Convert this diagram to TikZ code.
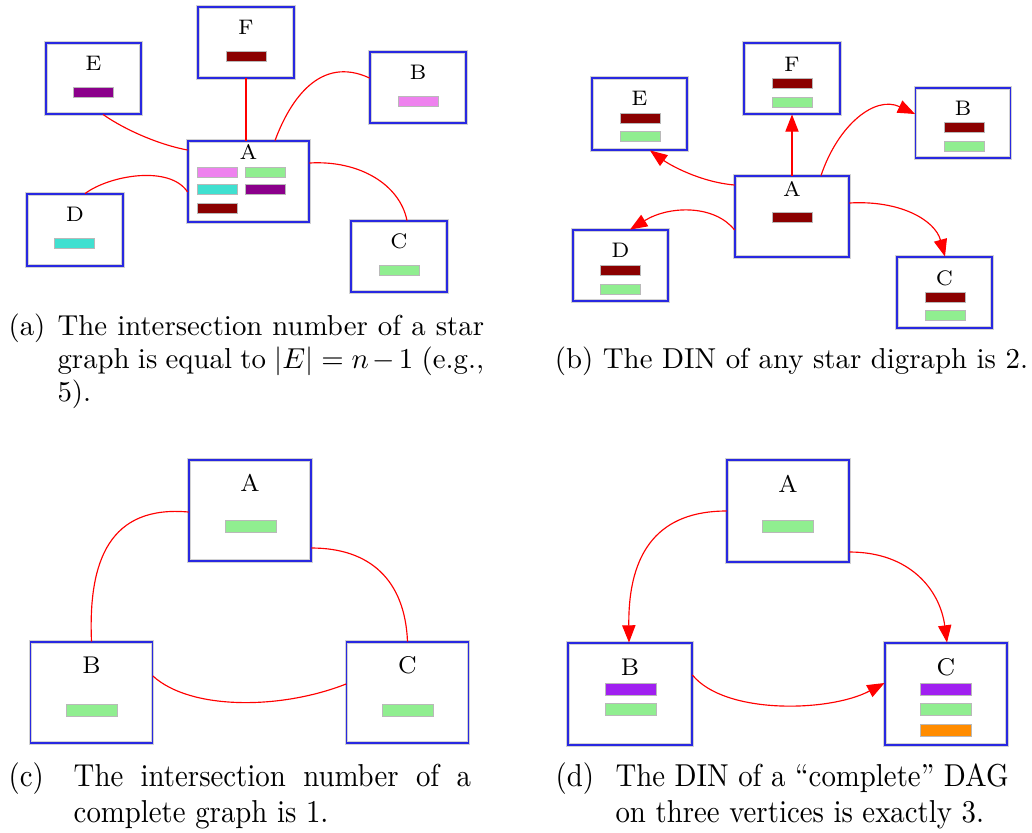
\documentclass[tikz,border=0pt]{standalone}
\usepackage{fontspec}
\usepackage{graphicx}
\usetikzlibrary{arrows.meta,calc}

\definecolor{boxblue}{RGB}{40,40,225}
\definecolor{cviolet}{HTML}{EE82EE}
\definecolor{clgreen}{HTML}{90EE90}
\definecolor{cturq}{HTML}{40E0D0}
\definecolor{cdmag}{HTML}{8B008B}
\definecolor{cdred}{HTML}{8B0000}
\definecolor{cpurple}{HTML}{A020F0}
\definecolor{corange}{HTML}{FF8C00}

\tikzset{
  sz/.style 2 args={minimum width=#1*0.347pt, minimum height=#2*0.347pt},
  vtx/.style={rectangle, draw=gray!35, line width=0.3pt, double=boxblue,
    double distance=0.6pt, fill=white, inner sep=0pt},
  lbl/.style={inner sep=0pt, font=\fontsize{7.3}{8.8}\selectfont},
  lblb/.style={inner sep=0pt, font=\fontsize{8.4}{10}\selectfont},
  bar/.style={rectangle, draw=gray!55, line width=0.3pt, inner sep=0pt,
    minimum width=40*0.347pt, minimum height=10*0.347pt},
  barb/.style={bar, minimum width=51*0.347pt, minimum height=12*0.347pt},
  und/.style={draw=red, line width=0.4pt},
  dir/.style={und, -{Triangle[length=6pt,width=4.6pt]}},
  captxt/.style={inner sep=0pt, font=\fontsize{10}{11.5}\selectfont},
}

\begin{document}
\begin{tikzpicture}[x=0.347pt, y=-0.347pt]
\useasboundingbox (0,0) rectangle (1032,832);

% ---------- (a) star graph ----------
\node[vtx, sz={96}{71}] (aF) at (246,42.5) {};
\node[lbl] (aFl) at (246,27.5) {F};
\node[bar, fill=cdred] (aF1) at (246.5,56) {};

\node[vtx, sz={95}{71}] (aE) at (93.5,78.5) {};
\node[lbl] (aEl) at (93.5,63.5) {E};
\node[bar, fill=cdmag] (aE1) at (93.5,92) {};

\node[vtx, sz={96}{71}] (aB) at (418,87.5) {};
\node[lbl] (aBl) at (418,72.5) {B};
\node[bar, fill=cviolet] (aB1) at (418,101) {};

\node[vtx, sz={121}{81}] (aA) at (248.5,181.5) {};
\node[lbl] (aAl) at (248.5,152) {A};
\node[bar, fill=cviolet] (aA1) at (217,172) {};
\node[bar, fill=clgreen] (aA2) at (265,172) {};
\node[bar, fill=cturq] (aA3) at (217,189.5) {};
\node[bar, fill=cdmag] (aA4) at (265,189.5) {};
\node[bar, fill=cdred] (aA5) at (217,208) {};

\node[vtx, sz={96}{72}] (aD) at (75,230) {};
\node[lbl] (aDl) at (75,214.5) {D};
\node[bar, fill=cturq] (aD1) at (74,243) {};

\node[vtx, sz={96}{71}] (aC) at (399,256.5) {};
\node[lbl] (aCl) at (399,241.5) {C};
\node[bar, fill=clgreen] (aC1) at (399,270.5) {};

\draw[und] ($(aE.south)+(9.5,0)$) .. controls (125,130) and (160,145) .. ($(aA.west)+(0,-31.5)$);
\draw[und] (aF.south) -- (aF.south |- aA.north);
\draw[und] ($(aA.north)+(26.5,0)$) .. controls (290,100) and (320,55) .. ($(aB.west)+(0,-9.5)$);
\draw[und] ($(aD.north)+(10,0)$) .. controls (110,175) and (170,165) .. ($(aA.west)+(0,10.5)$);
\draw[und] ($(aA.east)+(0,-18.5)$) .. controls (360,160) and (400,185) .. ($(aC.north)+(8,0)$);

\node[captxt, anchor=north west] (capA) at (8,313.4) {\parbox{165pt}{\hangindent=17pt\hangafter=1\makebox[17pt][l]{(a)}The intersection number of a star\linebreak graph is equal to $|E|=n-1$ (e.g.,\linebreak 5).}};

% ---------- (b) star digraph ----------
\node[vtx, sz={95}{72}] (bE) at (639.5,114) {};
\node[lbl] (bEl) at (639.5,98) {E};
\node[bar, fill=cdred] (bE1) at (640,118) {};
\node[bar, fill=clgreen] (bE2) at (640,136) {};

\node[vtx, sz={96}{71}] (bF) at (792,78.5) {};
\node[lbl] (bFl) at (792,64) {F};
\node[bar, fill=cdred] (bF1) at (792,83) {};
\node[bar, fill=clgreen] (bF2) at (792,102) {};

\node[vtx, sz={95}{70}] (bB) at (963,123) {};
\node[lbl] (bBl) at (963,108) {B};
\node[bar, fill=cdred] (bB1) at (964,127) {};
\node[bar, fill=clgreen] (bB2) at (964,146) {};

\node[vtx, sz={114}{81}] (bA) at (792,216.5) {};
\node[lbl] (bAl) at (792,189) {A};
\node[bar, fill=cdred] (bA1) at (792.5,217.5) {};

\node[vtx, sz={95}{71}] (bD) at (620.5,265.5) {};
\node[lbl] (bDl) at (620.5,250) {D};
\node[bar, fill=cdred] (bD1) at (620,270) {};
\node[bar, fill=clgreen] (bD2) at (620,289) {};

\node[vtx, sz={95}{71}] (bC) at (944.5,292.5) {};
\node[lbl] (bCl) at (944.5,278) {C};
\node[bar, fill=cdred] (bC1) at (945,297) {};
\node[bar, fill=clgreen] (bC2) at (945,315) {};

\draw[dir] (bA.north) -- (bA.north |- bF.south);
\draw[dir] ($(bA.north)+(29,0)$) .. controls (838,125) and (875,95) .. ($(bB.west)+(0,-9)$);
\draw[dir] ($(bA.west)+(0,-31.5)$) .. controls (700,182) and (670,165) .. ($(bE.south)+(10.5,0)$);
\draw[dir] ($(bA.west)+(0,13.5)$) .. controls (715,205) and (670,205) .. ($(bD.north)+(9.5,0)$);
\draw[dir] ($(bA.east)+(0,-13.5)$) .. controls (900,200) and (935,220) .. ($(bC.north)+(0.5,0)$);

\node[captxt, anchor=base] (capB) at (791.5,368) {(b) The DIN of any star digraph is 2.};

% ---------- (c) complete graph ----------
\node[vtx, sz={122}{101}] (cA) at (250,510.5) {};
\node[lblb] (cAl) at (250,483) {A};
\node[barb, fill=clgreen] (cA1) at (250.5,526) {};

\node[vtx, sz={122}{101}] (cB) at (91.5,692.5) {};
\node[lblb] (cBl) at (91.5,665) {B};
\node[barb, fill=clgreen] (cB1) at (91.5,710) {};

\node[vtx, sz={122}{101}] (cC) at (407.5,692.5) {};
\node[lblb] (cCl) at (407.5,665) {C};
\node[barb, fill=clgreen] (cC1) at (407.5,710) {};

\draw[und] ($(cA.west)+(0,1.5)$) .. controls (110,505) and (88,560) .. (cB.north);
\draw[und] ($(cA.east)+(0,37.5)$) .. controls (370,548) and (405,580) .. (cC.north);
\draw[und] ($(cB.east)+(0,-16.5)$) .. controls (190,710) and (280,710) .. ($(cC.west)+(0,-8.5)$);

\node[captxt, anchor=north west] (capC) at (8,762) {\scalebox{1}[1.1]{\parbox{160.5pt}{\hangindent=22.6pt\hangafter=1\makebox[22.6pt][l]{(c)}The intersection number of a\linebreak complete graph is 1.}}};

% ---------- (d) complete DAG ----------
\node[vtx, sz={122}{102}] (dA) at (788,511) {};
\node[lblb] (dAl) at (788,484) {A};
\node[barb, fill=clgreen] (dA1) at (788,526.5) {};

\node[vtx, sz={124}{102}] (dB) at (630,694) {};
\node[lblb] (dBl) at (630,667) {B};
\node[barb, fill=cpurple] (dB1) at (630.5,689) {};
\node[barb, fill=clgreen] (dB2) at (630.5,709.5) {};

\node[vtx, sz={122}{102}] (dC) at (946,694) {};
\node[lblb] (dCl) at (946,667) {C};
\node[barb, fill=cpurple] (dC1) at (946,689) {};
\node[barb, fill=clgreen] (dC2) at (946,709.5) {};
\node[barb, fill=corange] (dC3) at (946,730) {};

\draw[dir] (dA.west) .. controls (660,511) and (628,550) .. ($(dB.north)+(-1,0)$);
\draw[dir] ($(dA.east)+(0,41)$) .. controls (910,552) and (940,590) .. ($(dC.north)+(1,0)$);
\draw[dir] ($(dB.east)+(0,-19)$) .. controls (725,715) and (830,712) .. ($(dC.west)+(0,-11)$);

\node[captxt, anchor=north west] (capD) at (555,762) {\scalebox{1}[1.1]{\parbox{157.2pt}{\hangindent=20.8pt\hangafter=1\makebox[20.8pt][l]{(d)}The DIN of a ``complete'' DAG\linebreak on three vertices is exactly 3.}}};

\end{tikzpicture}
\end{document}
